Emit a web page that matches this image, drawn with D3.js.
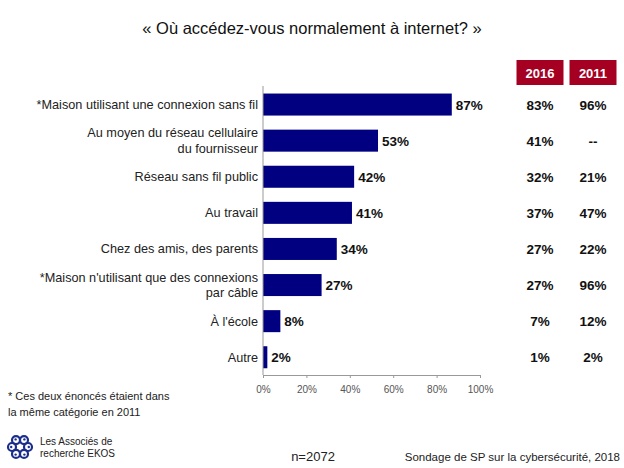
<!DOCTYPE html>
<html><head><meta charset="utf-8">
<script src="https://cdn.jsdelivr.net/npm/d3@7"></script>
<style>
body{margin:0;background:#fff;}
svg{display:block;font-family:"Liberation Sans",Arial,sans-serif;}
</style></head>
<body>
<svg id="c" width="624" height="468"></svg>
<script>
const categories = [
  ["*Maison utilisant une connexion sans fil"],
  ["Au moyen du réseau cellulaire","du fournisseur"],
  ["Réseau sans fil public"],
  ["Au travail"],
  ["Chez des amis, des parents"],
  ["*Maison n'utilisant que des connexions","par câble"],
  ["À l'école"],
  ["Autre"]
];
const values2018 = [87, 53, 42, 41, 34, 27, 8, 2];
const values2016 = ["83%", "41%", "32%", "37%", "27%", "27%", "7%", "1%"];
const values2011 = ["96%", "--", "21%", "47%", "22%", "96%", "12%", "2%"];
const columnHeaders = ["2016", "2011"];
const xTicks = [0, 20, 40, 60, 80, 100];

const svg = d3.select("#c");
const keys = categories.map((d,i)=>i);
const x = d3.scaleLinear().domain([0,100]).range([263,480]);
const y = d3.scaleBand().domain(keys).range([86.5,375.3]).paddingInner(0.39).paddingOuter(0.195);

// title
svg.append("text").attr("x",312).attr("y",34).attr("text-anchor","middle")
  .attr("font-size",16.5).attr("fill","#111")
  .text("« Où accédez-vous normalement à internet? »");

// header boxes
const colX = [540, 593];
const hdr = svg.selectAll("g.hdr").data(columnHeaders).join("g").attr("class","hdr");
hdr.append("rect").attr("x",(d,i)=>colX[i]-23.5).attr("y",60).attr("width",47).attr("height",25).attr("fill","#a50021");
hdr.append("text").attr("x",(d,i)=>colX[i]).attr("y",78).attr("text-anchor","middle")
  .attr("font-size",13).attr("font-weight","bold").attr("fill","#fff").text(d=>d);

// bars
svg.selectAll("rect.bar").data(values2018).join("rect").attr("class","bar")
  .attr("x",x(0)).attr("y",(d,i)=>y(i)).attr("width",d=>x(d)-x(0)).attr("height",y.bandwidth())
  .attr("fill","#000080");

// value labels
svg.selectAll("text.val").data(values2018).join("text").attr("class","val")
  .attr("x",d=>x(d)+4).attr("y",(d,i)=>y(i)+y.bandwidth()/2+5)
  .attr("font-size",13.5).attr("font-weight","bold").attr("fill","#111").text(d=>d+"%");

// category labels
const cl = svg.selectAll("text.cat").data(categories).join("text").attr("class","cat")
  .attr("text-anchor","end").attr("font-size",12.7).attr("fill","#222");
cl.each(function(lines,i){
  const cy = y(i)+y.bandwidth()/2;
  const t = d3.select(this);
  const n = lines.length;
  lines.forEach((s,j)=>{
    t.append("tspan").attr("x",258).attr("y",cy+4.5+(j-(n-1)/2)*15.5).text(s);
  });
});

// right columns
[values2016, values2011].forEach((arr,k)=>{
  svg.selectAll("text.col"+k).data(arr).join("text").attr("class","col"+k)
    .attr("x",colX[k]).attr("y",(d,i)=>y(i)+y.bandwidth()/2+5)
    .attr("text-anchor","middle").attr("font-size",13.5).attr("font-weight","bold").attr("fill","#111").text(d=>d);
});

// axes
svg.append("line").attr("x1",x(0)).attr("x2",x(0)).attr("y1",86).attr("y2",375).attr("stroke","#999");
const ax = svg.append("g").attr("transform","translate(0,375)")
  .call(d3.axisBottom(x).tickValues(xTicks).tickFormat(d=>d+"%").tickSize(3).tickPadding(8));
ax.select(".domain").attr("stroke","#999");
ax.selectAll(".tick line").attr("stroke","#999");
ax.selectAll(".tick text").attr("font-size",10).attr("fill","#555").attr("font-family","Liberation Sans, Arial, sans-serif");

// footnote
svg.append("text").attr("x",8).attr("y",400).attr("font-size",11).attr("fill","#222").text("* Ces deux énoncés étaient dans");
svg.append("text").attr("x",8).attr("y",416).attr("font-size",11).attr("fill","#222").text("la même catégorie en 2011");

// logo
const lg = svg.append("g").attr("transform","translate(20,447)");
d3.range(6).forEach(k=>{
  const a = k*Math.PI/3;
  const cx = Math.cos(a)*8, cy = Math.sin(a)*8;
  lg.append("circle").attr("cx",cx).attr("cy",cy).attr("r",4).attr("fill","none").attr("stroke","#1c2e8c").attr("stroke-width",2.2);
  lg.append("circle").attr("cx",cx*1.1).attr("cy",cy*1.1).attr("r",1.2).attr("fill","#1c2e8c");
});
svg.append("text").attr("x",40).attr("y",445).attr("font-size",10).attr("fill","#222").text("Les Associés de");
svg.append("text").attr("x",40).attr("y",457).attr("font-size",10).attr("fill","#222").text("recherche EKOS");

// bottom
svg.append("text").attr("x",313).attr("y",461).attr("text-anchor","middle").attr("font-size",13).attr("fill","#222").text("n=2072");
svg.append("text").attr("x",620).attr("y",461).attr("text-anchor","end").attr("font-size",11.5).attr("fill","#222").text("Sondage de SP sur la cybersécurité, 2018");
</script>
</body></html>
